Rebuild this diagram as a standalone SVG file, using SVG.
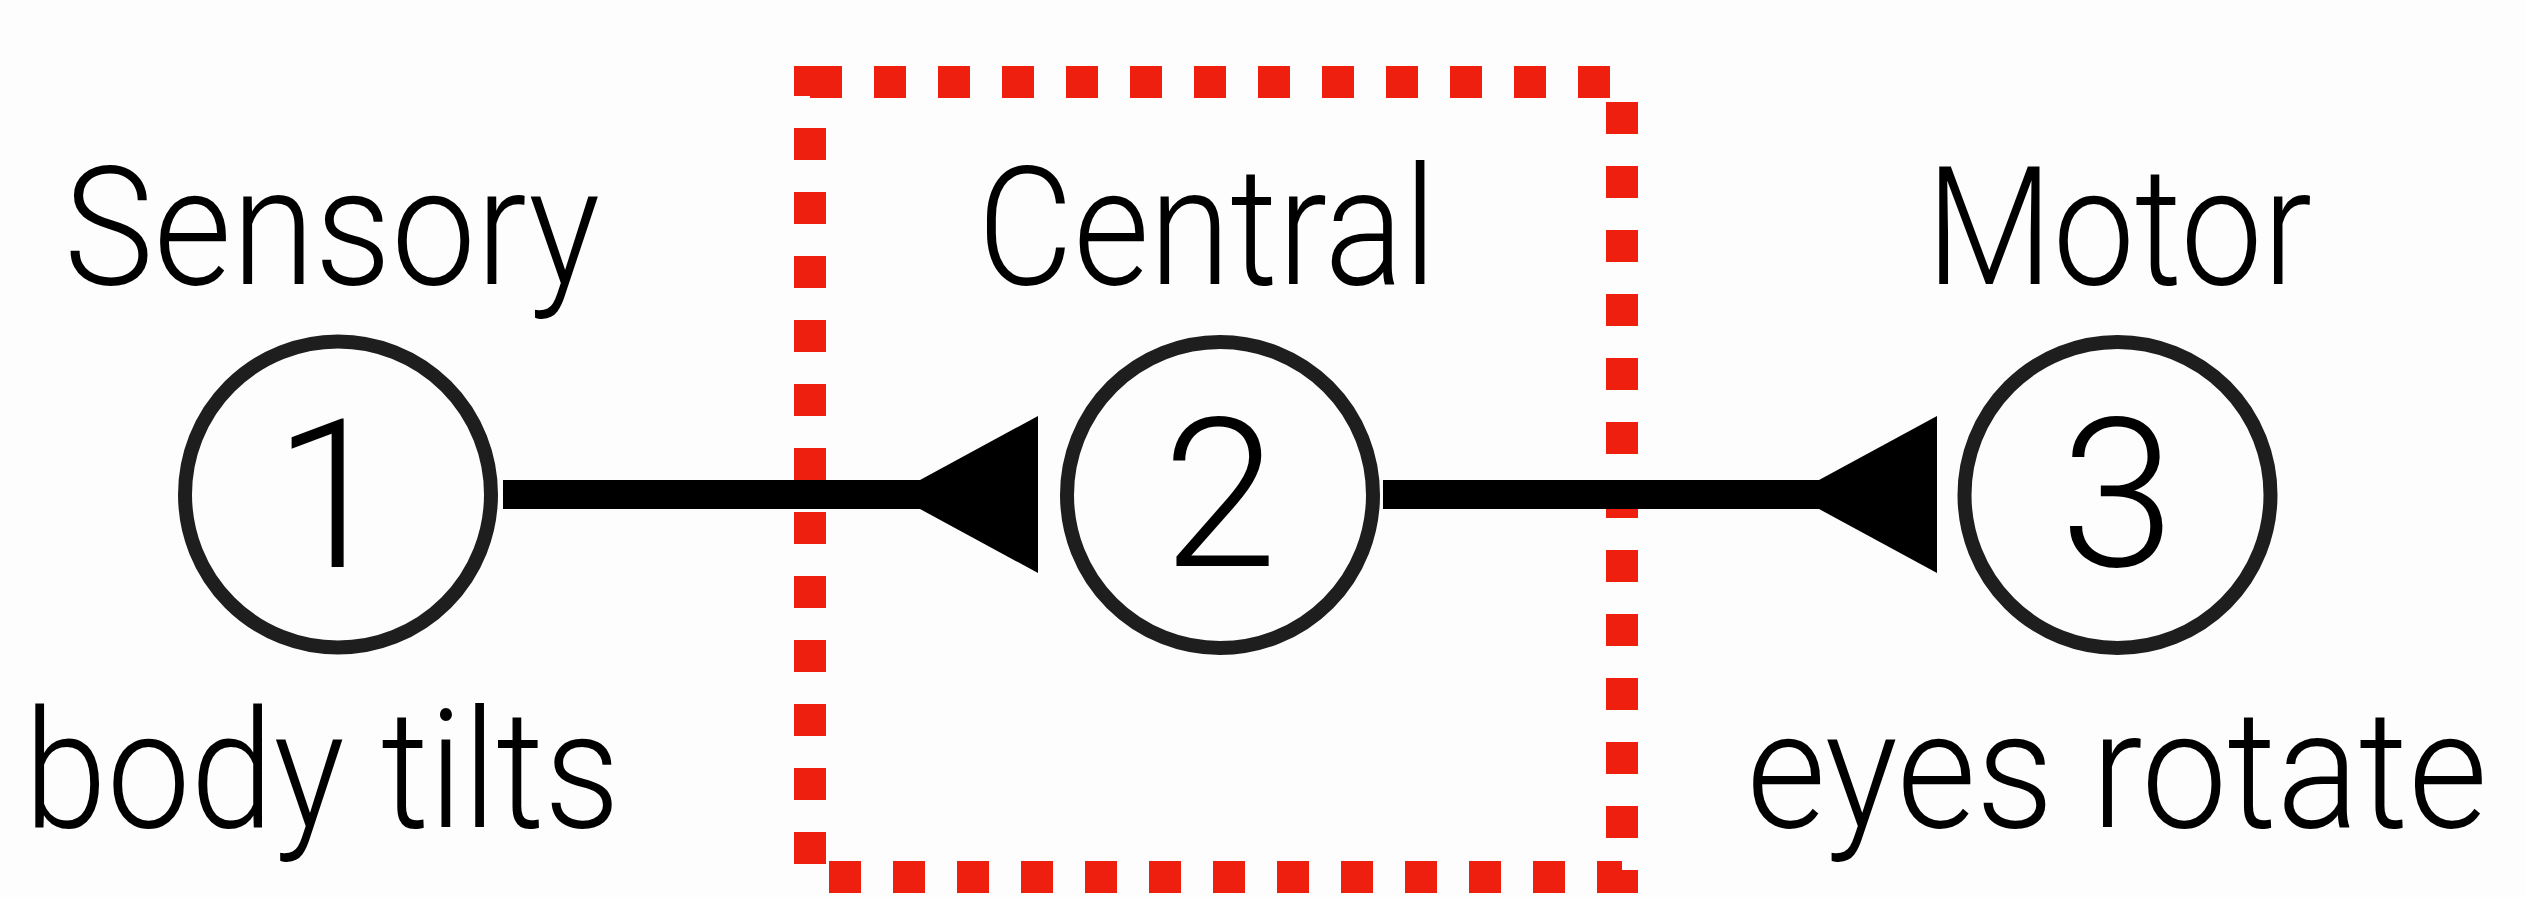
<svg xmlns="http://www.w3.org/2000/svg" width="2525" height="897" viewBox="0 0 2525 897">
<style>
.bg{fill:#fdfdfd}
.node{fill:none;stroke:#1e1e1e;stroke-width:14}
.num{font-family:Roboto,"Liberation Sans",Arial,sans-serif;font-weight:300;font-size:207px;fill:#000;text-anchor:middle}
.lbl{font-family:Roboto,"Liberation Sans",Arial,sans-serif;font-weight:300;font-size:165px;fill:#000;text-anchor:middle}
.edge{fill:none;stroke:#000;stroke-width:29}
.box{fill:none;stroke:#ee1f0f;stroke-width:32;stroke-dasharray:32 32}
</style>
<defs>
<marker id="tri" markerUnits="userSpaceOnUse" orient="auto" refX="0" refY="0" markerWidth="130" markerHeight="170" viewBox="0 -85 130 170" overflow="visible">
<path d="M0,-78.5 L118,-14.5 L118,14.5 L0,78.5 Z" fill="#000"/>
</marker>
</defs>
<rect class="bg" x="0" y="0" width="2525" height="897"/>
<g id="central-region">
<path class="box" d="M810,82 H1622 V877 H810 Z"/>
</g>
<g id="connectors">
<path class="edge" d="M1038,494.5 H503" marker-start="url(#tri)"/>
<path class="edge" d="M1937,494.5 H1383" marker-start="url(#tri)"/>
</g>
<g id="node-1">
<circle class="node" cx="338" cy="494.5" r="153"/>
<text class="num" x="331" y="567">1</text>
<text class="lbl" x="332" y="284" textLength="536" lengthAdjust="spacingAndGlyphs">Sensory</text>
<text class="lbl" x="322" y="827" textLength="596" lengthAdjust="spacingAndGlyphs">body tilts</text>
</g>
<g id="node-2">
<circle class="node" cx="1220" cy="495" r="153"/>
<text class="num" x="1220" y="566">2</text>
<text class="lbl" x="1207" y="284" textLength="459" lengthAdjust="spacingAndGlyphs">Central</text>
</g>
<g id="node-3">
<circle class="node" cx="2117.5" cy="495" r="153"/>
<text class="num" x="2117.5" y="566">3</text>
<text class="lbl" x="2119" y="284" textLength="386" lengthAdjust="spacingAndGlyphs">Motor</text>
<text class="lbl" x="2117" y="827" textLength="741" lengthAdjust="spacingAndGlyphs">eyes rotate</text>
</g>
</svg>
